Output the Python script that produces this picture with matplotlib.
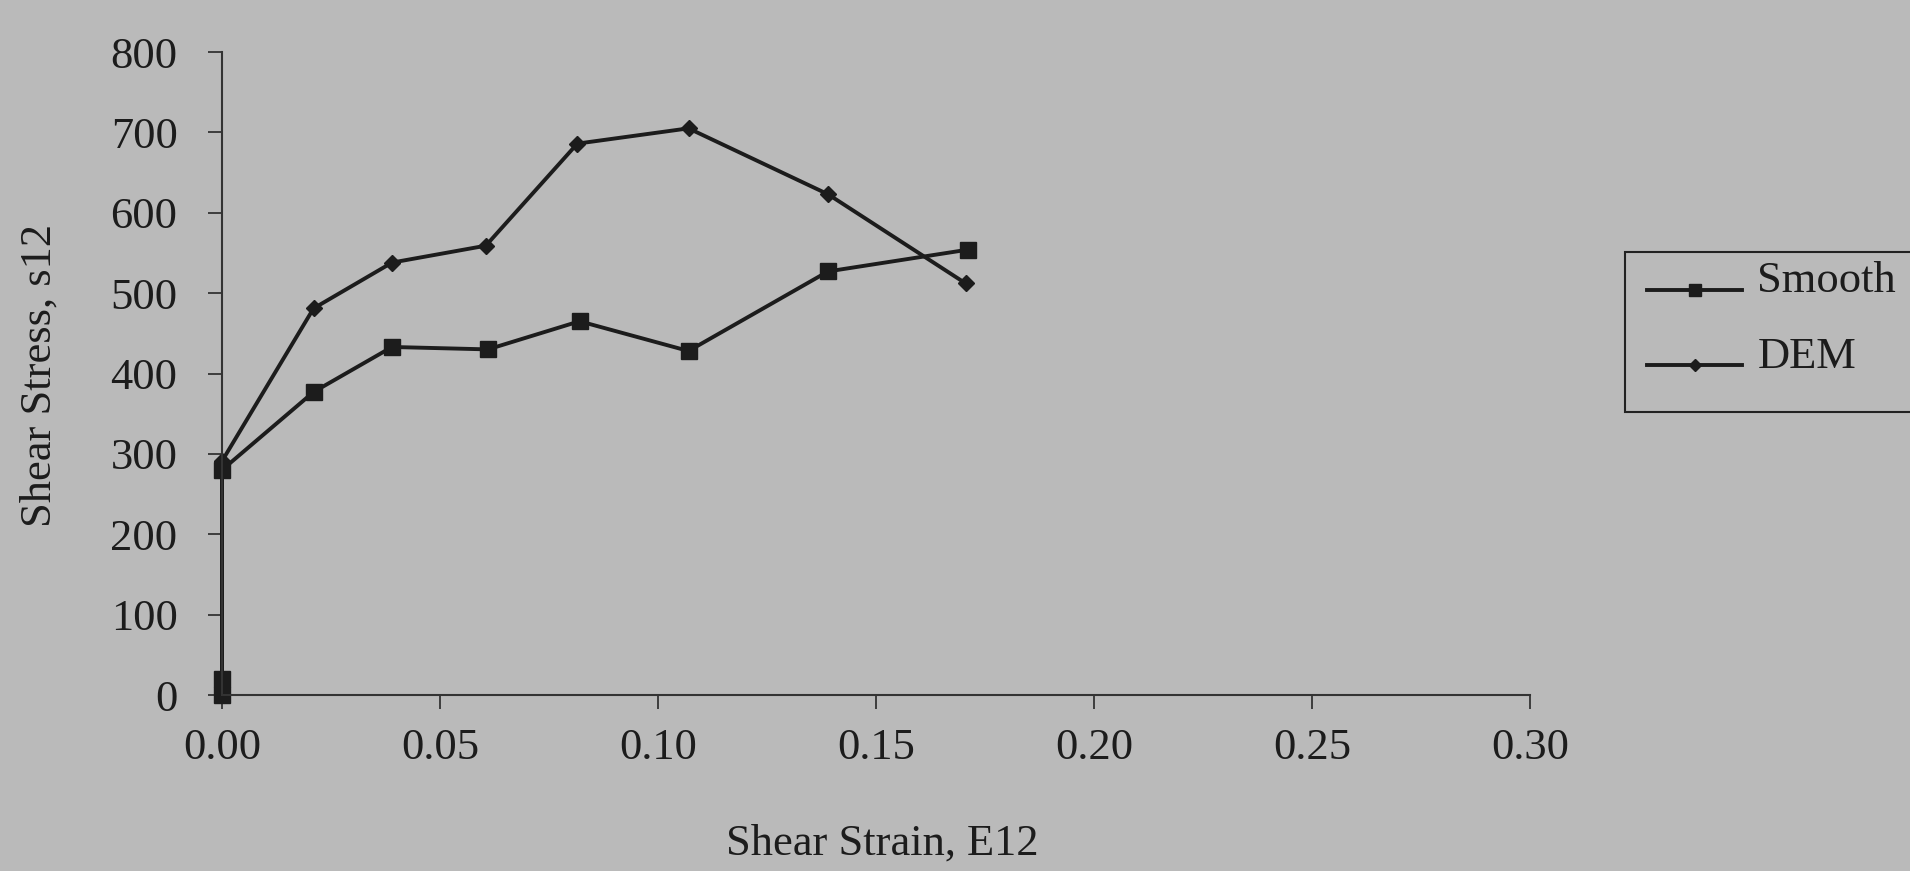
import matplotlib
matplotlib.use("Agg")
import matplotlib.pyplot as plt
from matplotlib.ticker import FormatStrFormatter
from matplotlib.transforms import ScaledTranslation

# Datos
strain_smooth = [0.0, 0.0, 0.0, 0.021, 0.039, 0.061, 0.082, 0.107, 0.139, 0.171]
stress_smooth = [0, 20, 280, 377, 433, 430, 465, 428, 527, 554]
strain_dem = [0.0, 0.0, 0.021, 0.039, 0.0605, 0.0815, 0.107, 0.139, 0.1706]
stress_dem = [0, 291, 481, 538, 559, 686, 705, 623, 512]

x_ticks = [0.00, 0.05, 0.10, 0.15, 0.20, 0.25, 0.30]
y_ticks = [0, 100, 200, 300, 400, 500, 600, 700, 800]

bg = '#bababa'
ink = '#1c1c1c'

plt.rcParams['font.family'] = ['Liberation Serif', 'DejaVu Serif']
plt.rcParams['font.size'] = 32

fig = plt.figure(figsize=(19.1, 8.71), dpi=100, facecolor=bg)
ax = fig.add_axes([222/1910, 1 - 695/871, 1308/1910, 643/871])
ax.set_facecolor(bg)

l1, = ax.plot(strain_smooth, stress_smooth, color=ink, lw=2.8, marker='s',
              ms=11, mfc=ink, mec=ink, clip_on=False, label='Smooth')
l2, = ax.plot(strain_dem, stress_dem, color=ink, lw=2.8, marker='D',
              ms=8, mfc=ink, mec=ink, clip_on=False, label='DEM')

ax.set_xlim(0, 0.30)
ax.set_ylim(0, 800)
ax.set_xticks(x_ticks)
ax.set_yticks(y_ticks)
ax.xaxis.set_major_formatter(FormatStrFormatter('%.2f'))

for s in ['top', 'right']:
    ax.spines[s].set_visible(False)
for s in ['left', 'bottom']:
    ax.spines[s].set_color('#333333')
    ax.spines[s].set_linewidth(1.5)

ax.tick_params(axis='both', direction='out', length=10, width=1.3,
               color='#333333', labelcolor=ink, labelsize=32)
ax.tick_params(axis='x', pad=14)
ax.tick_params(axis='y', pad=22)

ax.set_xlabel('Shear Strain, E12', fontsize=32, color=ink)
ax.set_ylabel('Shear Stress, s12', fontsize=32, color=ink)
ax.xaxis.set_label_coords(0.5046, -0.200)
ax.yaxis.set_label_coords(-0.124, 0.4977)

leg = fig.legend(handles=[l1, l2], loc='upper left',
                 bbox_to_anchor=(1625/1910, 1 - 252/871),
                 bbox_transform=fig.transFigure, borderaxespad=0,
                 fancybox=False, edgecolor='#222222', facecolor=bg,
                 framealpha=1, fontsize=32, handlelength=2.14,
                 handletextpad=0.34, borderpad=0.5, labelspacing=0.8,
                 markerscale=0.8)
leg.get_frame().set_linewidth(1.5)
# el texto de la leyenda va un poco por encima de la linea
for t in leg.get_texts():
    t.set_color(ink)
    t.set_transform(t.get_transform() + ScaledTranslation(0, 0.13, fig.dpi_scale_trans))

fig.savefig('out.png', dpi=100, facecolor=bg)
